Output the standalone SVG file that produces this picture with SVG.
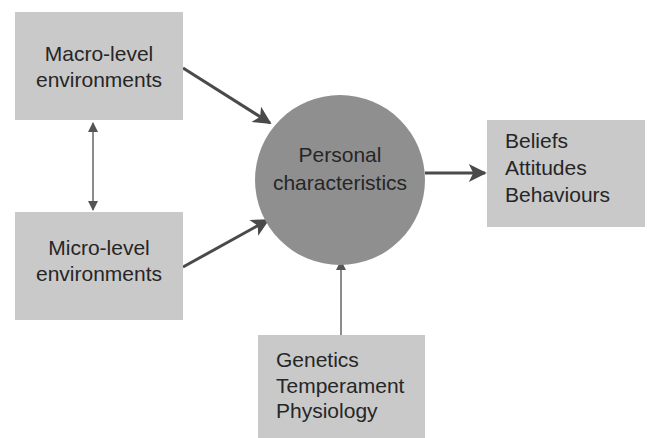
<svg xmlns="http://www.w3.org/2000/svg" width="647" height="438" viewBox="0 0 647 438">
<style>
.box{fill:#c9c9c9;}
.circ{fill:#8f8f8f;}
text{font-family:"Liberation Sans",Arial,sans-serif;font-size:21px;fill:#262626;}
.c{text-anchor:middle;}
.thick{stroke:#4a4a4a;stroke-width:3;fill:none;}
.thin{stroke:#666;stroke-width:1.5;fill:none;}
</style>
<defs>
<marker id="big" viewBox="0 0 10 10" refX="9" refY="5" markerWidth="20" markerHeight="18" markerUnits="userSpaceOnUse" orient="auto"><path d="M0,0 L10,5 L0,10 L2.5,5 z" fill="#4a4a4a"/></marker>
<marker id="sm" viewBox="0 0 10 10" refX="9" refY="5" markerWidth="11" markerHeight="10" markerUnits="userSpaceOnUse" orient="auto-start-reverse"><path d="M0,0 L10,5 L0,10 z" fill="#555"/></marker>
</defs>
<rect width="647" height="438" fill="#fff"/>
<g id="connectors">
<line class="thick" x1="183" y1="68" x2="270" y2="123" marker-end="url(#big)"/>
<line class="thick" x1="183" y1="267" x2="268" y2="220" marker-end="url(#big)"/>
<line class="thick" x1="425" y1="173" x2="485" y2="173" marker-end="url(#big)"/>
<line class="thin" x1="341" y1="335" x2="341" y2="261" marker-end="url(#sm)"/>
<line class="thin" x1="93" y1="123" x2="93" y2="210" marker-start="url(#sm)" marker-end="url(#sm)"/>
</g>
<g id="macro">
<rect class="box" x="15" y="12" width="168" height="108"/>
<text class="c" x="99" y="61">Macro-level</text>
<text class="c" x="99" y="87">environments</text>
</g>
<g id="micro">
<rect class="box" x="15" y="212" width="168" height="108"/>
<text class="c" x="99" y="255">Micro-level</text>
<text class="c" x="99" y="281">environments</text>
</g>
<g id="personal">
<circle class="circ" cx="340" cy="180" r="85"/>
<text class="c" x="340" y="162">Personal</text>
<text class="c" x="340" y="190">characteristics</text>
</g>
<g id="outcomes">
<rect class="box" x="487" y="120" width="158" height="107"/>
<text x="505" y="148">Beliefs</text>
<text x="505" y="175">Attitudes</text>
<text x="505" y="202">Behaviours</text>
</g>
<g id="biology">
<rect class="box" x="258" y="335" width="167" height="103"/>
<text x="276" y="367">Genetics</text>
<text x="276" y="393">Temperament</text>
<text x="276" y="418">Physiology</text>
</g>
</svg>
